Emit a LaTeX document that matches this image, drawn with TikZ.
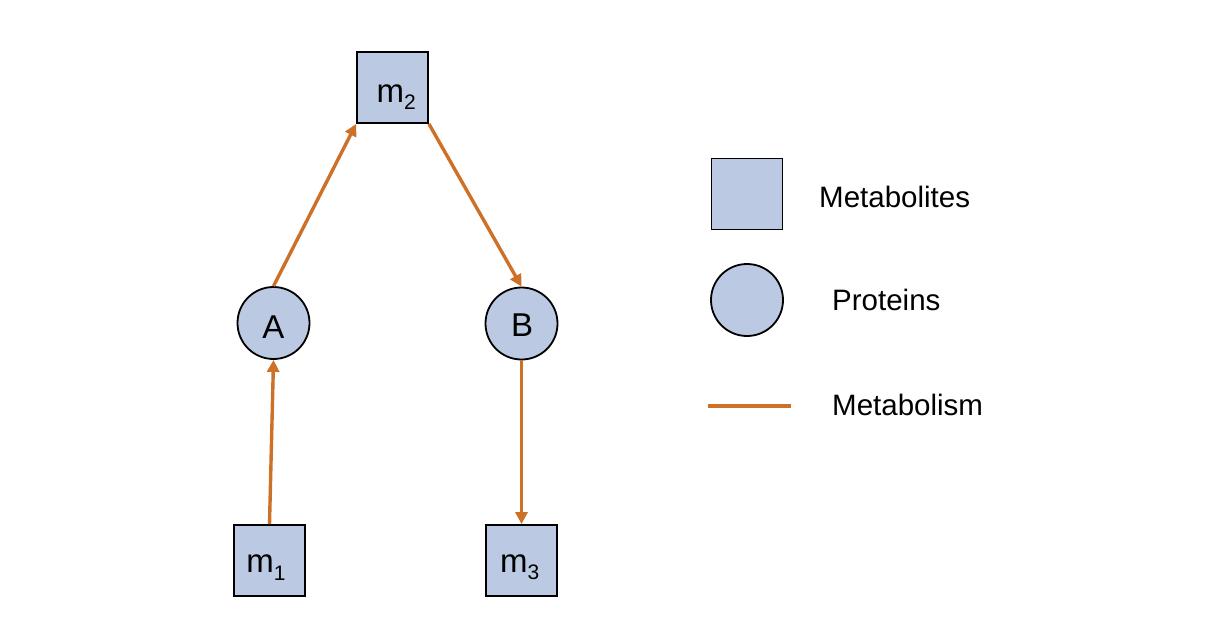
\documentclass[tikz,border=0pt]{standalone}
\usepackage{fontspec}
\setmainfont{Liberation Sans}
\usetikzlibrary{arrows.meta}
\definecolor{nodefill}{RGB}{187,202,226}
\definecolor{metab}{RGB}{205,112,40}
\newcommand{\lowsub}[1]{\raisebox{-0.22em}{\fontsize{21}{24}\selectfont #1}}
% #1 horizontal shift, #2 raise, #3 text
\newcommand{\placed}[3]{\raisebox{#2}[0pt][0pt]{\makebox[0pt][c]{\hspace*{#1}#3}}}
\begin{document}
\begin{tikzpicture}[x=1pt,y=-1pt,
  metabox/.style={draw=black,line width=1.8pt,fill=nodefill,minimum size=71pt,inner sep=0pt,font=\fontsize{33}{36}\selectfont},
  protein/.style={circle,draw=black,line width=1.8pt,fill=nodefill,minimum size=72pt,inner sep=0pt,font=\fontsize{33}{36}\selectfont},
  metarrow/.style={draw=metab,line width=3.4pt,-{Triangle[length=12pt,width=12pt]}},
  legtext/.style={anchor=west,inner sep=0pt,font=\fontsize{29.5}{33}\selectfont}]
\useasboundingbox (0,0) rectangle (1206,637);
\node[metabox] (m2) at (392.5,87.5) {\placed{7.2pt}{-15pt}{m\lowsub{2}}};
\node[metabox] (m1) at (269.5,560.5) {\placed{-7pt}{-12.3pt}{m\lowsub{1}}};
\node[metabox] (m3) at (521.5,560.5) {\placed{-3.8pt}{-11.8pt}{m\lowsub{3}}};
\node[protein] (A) at (273.5,323) {\placed{0pt}{-15.5pt}{A}};
\node[protein] (B) at (521.5,323.5) {\placed{1pt}{-12.5pt}{B}};
\draw[metarrow] (m1.north) -- (A.south);
\draw[metarrow] (A.north) -- (m2.south west);
\draw[metarrow] (m2.south east) -- (B.north);
\draw[metarrow] (B.south) -- (m3.north);
% legend
\node[metabox] (lm) at (747,194) {};
\node[protein] (lp) at (747,300) {};
\coordinate (l1) at (708,406);
\coordinate (l2) at (791,406);
\draw[draw=metab,line width=3.6pt] (l1) -- (l2);
\node[legtext] (t1) at (819,197) {Metabolites};
\node[legtext] (t2) at (832,300) {Proteins};
\node[legtext] (t3) at (832,405) {Metabolism};
\end{tikzpicture}
\end{document}
